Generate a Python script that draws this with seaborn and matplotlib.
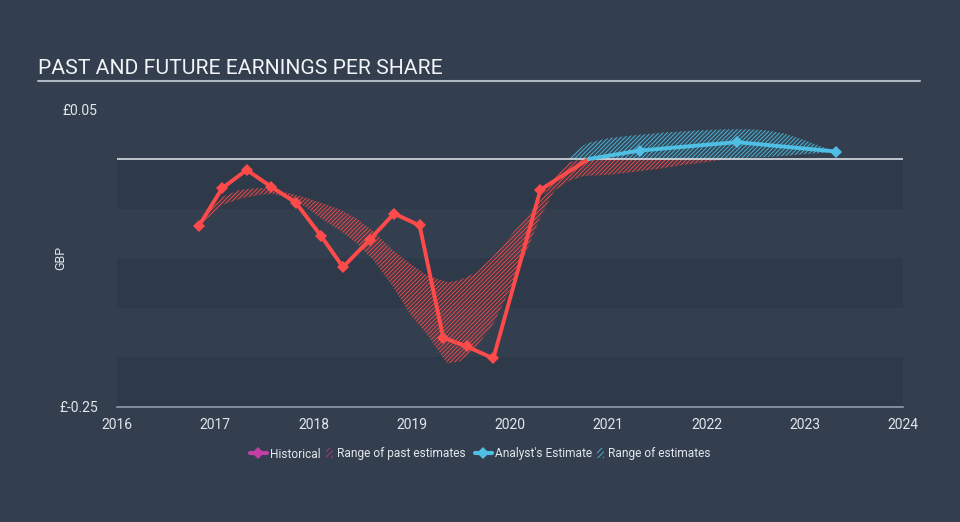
import numpy as np
import pandas as pd
import seaborn as sns
import matplotlib.pyplot as plt
from matplotlib.lines import Line2D
from matplotlib.patches import Patch

# historical EPS (GBP)
hist_year = [2016.83, 2017.07, 2017.32, 2017.57, 2017.82, 2018.08, 2018.30,
             2018.57, 2018.82, 2019.08, 2019.32, 2019.56, 2019.83, 2020.31, 2020.80]
hist_eps = [-0.068, -0.0295, -0.011, -0.028, -0.044, -0.078, -0.109,
            -0.0815, -0.055, -0.067, -0.180, -0.189, -0.201, -0.031, 0.0]

# analyst estimates
est_year = [2020.80, 2021.32, 2022.31, 2023.32]
est_eps = [0.0, 0.0085, 0.017, 0.0075]

# range of past estimates (upper / lower edge)
past_year = [2016.83, 2017.0, 2017.08, 2017.25, 2017.45, 2017.59, 2017.76, 2017.93,
             2018.1, 2018.27, 2018.44, 2018.61, 2018.81, 2018.98, 2019.15, 2019.36,
             2019.49, 2019.66, 2019.83, 2020.0, 2020.17, 2020.31, 2020.45, 2020.6,
             2020.75, 2021.0, 2021.26, 2021.5, 2021.76, 2022.0, 2022.2]
past_hi = [-0.067, -0.045, -0.038, -0.031, -0.029, -0.0305, -0.0346, -0.039,
           -0.0447, -0.051, -0.060, -0.073, -0.092, -0.105, -0.117, -0.124,
           -0.122, -0.114, -0.098, -0.078, -0.058, -0.041, -0.020, -0.003,
           0.0, 0.0, 0.0, 0.0, 0.0, 0.0, 0.0]
past_lo = [-0.067, -0.053, -0.046, -0.040, -0.036, -0.035, -0.0396, -0.049,
           -0.0615, -0.072, -0.085, -0.102, -0.129, -0.156, -0.176, -0.206,
           -0.204, -0.189, -0.166, -0.132, -0.092, -0.058, -0.032, -0.022,
           -0.017, -0.016, -0.013, -0.010, -0.006, -0.003, 0.0]

# range of analyst estimates
rng_year = [2020.58, 2020.7, 2020.78, 2021.0, 2021.26, 2021.6, 2021.93, 2022.2,
            2022.44, 2022.6, 2022.78, 2023.0, 2023.32]
rng_hi = [0.0, 0.010, 0.016, 0.021, 0.024, 0.027, 0.029, 0.030,
          0.030, 0.029, 0.026, 0.019, 0.007]
rng_lo = [0.0, 0.0, 0.0, 0.0, 0.0, 0.0, 0.0, 0.0,
          0.0015, 0.002, 0.003, 0.005, 0.007]

legend_labels = ['Historical', 'Range of past estimates',
                 "Analyst's Estimate", 'Range of estimates']

BG = '#333f4f'
DARK = '#2e3a49'
RED = '#ff4a4a'
BLUE = '#4fc0e3'
TXT = '#e3e6ea'

sns.set_style('dark', {'axes.facecolor': BG, 'figure.facecolor': BG})
plt.rcParams['font.family'] = ['Roboto', 'DejaVu Sans']
plt.rcParams['hatch.linewidth'] = 0.6

hist = pd.DataFrame({'year': hist_year, 'eps': hist_eps})
est = pd.DataFrame({'year': est_year, 'eps': est_eps})

fig = plt.figure(figsize=(9.6, 5.22), dpi=100)
ax = fig.add_axes([117/960, 1-407/522, (903-117)/960, (407-109.4)/522])
ax.set_facecolor(BG)

# alternating bands
for top in [0.0, -0.10, -0.20]:
    ax.axhspan(top - 0.05, top, color=DARK, lw=0, zorder=0)

# ranges
ax.fill_between(past_year, past_lo, past_hi, color=RED, alpha=0.08, lw=0, zorder=1)
ax.fill_between(past_year, past_lo, past_hi, facecolor='none', edgecolor=RED,
                hatch='////////', lw=0, zorder=1)
ax.fill_between(rng_year, rng_lo, rng_hi, color=BLUE, alpha=0.08, lw=0, zorder=1)
ax.fill_between(rng_year, rng_lo, rng_hi, facecolor='none', edgecolor=BLUE,
                hatch='////////', lw=0, zorder=1)

ax.axhline(0, color='#d9dee4', lw=1.2, zorder=2)

sns.lineplot(data=hist, x='year', y='eps', ax=ax, color=RED, lw=2.8,
             marker='D', markersize=6, markeredgewidth=0,
             markevery=list(range(len(hist_year) - 1)), zorder=3)
sns.lineplot(data=est, x='year', y='eps', ax=ax, color=BLUE, lw=2.8,
             marker='D', markersize=6, markeredgewidth=0,
             markevery=[1, 2, 3], zorder=3)

ax.set_xlim(2016, 2024)
ax.set_ylim(-0.25, 0.05)
ax.set_xticks(range(2016, 2025))
ax.set_yticks([0.05, -0.25])
ax.set_yticklabels(['£0.05', '£-0.25'])
ax.set_xlabel('')
ax.set_ylabel('GBP', color=TXT, fontsize=9)
ax.yaxis.set_label_coords((67 - 117) / 786, 0.5)
ax.grid(False)
for s in ['top', 'right', 'left']:
    ax.spines[s].set_visible(False)
ax.spines['bottom'].set_color('#8e9cad')
ax.spines['bottom'].set_linewidth(1.2)
ax.tick_params(axis='x', direction='out', length=7, width=1.2, color='#8e9cad',
               labelcolor=TXT, labelsize=10, pad=1)
ax.tick_params(axis='y', length=0, labelcolor=TXT, labelsize=10, pad=14)

# title and its rule
fig.text(38/960, 1-68/522, 'PAST AND FUTURE EARNINGS PER SHARE', color='#f2f4f6',
         fontsize=15.2, va='center', ha='left')
fig.add_artist(Line2D([38/960, 920/960], [1-81/522, 1-81/522],
                      transform=fig.transFigure, color='#aeb6c0', lw=1.5))

# legend, one entry at a time so the gaps match
handles = [Line2D([], [], color='#c23ea3', lw=3, marker='D', markersize=6, markeredgewidth=0),
           Patch(facecolor='none', edgecolor='#a8418c', hatch='//////', lw=0),
           Line2D([], [], color=BLUE, lw=3, marker='D', markersize=6, markeredgewidth=0),
           Patch(facecolor='none', edgecolor=BLUE, hatch='//////', lw=0)]
lefts = [250, 326, 475, 597]
hlens = [1.4, 0.6, 1.4, 0.6]
for h, lab, x0, hl in zip(handles, legend_labels, lefts, hlens):
    fig.legend([h], [lab], loc='center left', bbox_to_anchor=(x0/960, 1-454/522),
               frameon=False, fontsize=8.6, handlelength=hl, handleheight=0.9,
               handletextpad=0.3, borderpad=0, borderaxespad=0, labelcolor=TXT)

fig.savefig('out.png', dpi=100, facecolor=BG)
